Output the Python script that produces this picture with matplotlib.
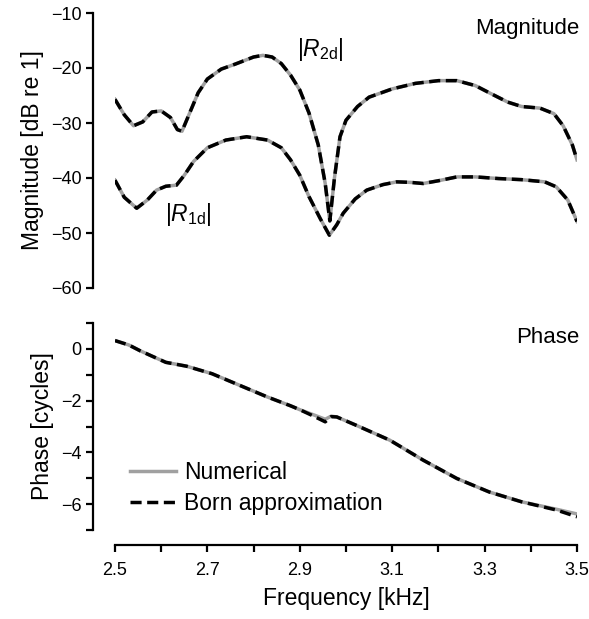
import matplotlib
matplotlib.use("Agg")
import matplotlib.pyplot as plt

plt.rcParams['font.family'] = ['Liberation Sans', 'DejaVu Sans']
plt.rcParams['mathtext.fontset'] = 'custom'
plt.rcParams['mathtext.rm'] = 'Liberation Sans'
plt.rcParams['mathtext.it'] = 'Liberation Sans:italic'

# |R_2d| (magnitude, dB) - numerical and Born coincide
f_r2 = [2.50, 2.52, 2.54, 2.56, 2.58, 2.60, 2.62, 2.635, 2.645, 2.66, 2.68, 2.70,
        2.73, 2.76, 2.80, 2.82, 2.84, 2.86, 2.88, 2.90, 2.92, 2.94, 2.955, 2.965,
        2.975, 2.987, 3.00, 3.025, 3.05, 3.10, 3.15, 3.20, 3.24, 3.28, 3.31, 3.35,
        3.38, 3.42, 3.45, 3.47, 3.49, 3.50]
r2 = [-25.7, -28.5, -30.5, -29.8, -28.0, -27.8, -29.0, -31.2, -31.5, -28.5, -24.5, -22.0,
      -20.2, -19.3, -18.0, -17.7, -18.0, -19.2, -21.3, -24.0, -28.2, -34.0, -41.0, -47.8,
      -40.0, -32.5, -29.5, -27.0, -25.3, -23.8, -22.8, -22.3, -22.3, -23.2, -24.5, -26.2,
      -27.0, -27.3, -28.3, -30.5, -34.0, -36.7]

# |R_1d|
f_r1 = [2.50, 2.52, 2.547, 2.57, 2.59, 2.61, 2.633, 2.65, 2.67, 2.70, 2.74, 2.785,
        2.83, 2.86, 2.88, 2.90, 2.92, 2.945, 2.964, 2.98, 2.994, 3.02, 3.045, 3.08,
        3.11, 3.14, 3.167, 3.20, 3.24, 3.28, 3.33, 3.38, 3.43, 3.455, 3.48, 3.50]
r1 = [-40.4, -43.5, -45.5, -44.0, -42.2, -41.5, -41.3, -39.5, -37.0, -34.5, -33.1, -32.5,
      -33.1, -34.5, -36.7, -39.5, -43.4, -47.5, -50.4, -48.5, -46.4, -43.8, -42.2, -41.2,
      -40.7, -40.8, -41.0, -40.5, -39.8, -39.8, -40.1, -40.3, -40.7, -41.6, -44.0, -47.9]

# phase (cycles)
f_ph = [2.50, 2.53, 2.554, 2.58, 2.61, 2.655, 2.71, 2.77, 2.83, 2.88, 2.90, 2.93,
        2.955, 2.968, 2.98, 3.023, 3.095, 3.167, 3.24, 3.31, 3.38, 3.456, 3.50]
ph_num = [0.32, 0.15, -0.07, -0.28, -0.52, -0.67, -0.96, -1.41, -1.86, -2.2, -2.35, -2.55,
          -2.72, -2.6, -2.63, -2.96, -3.53, -4.3, -5.01, -5.53, -5.91, -6.2, -6.38]
ph_born = [0.32, 0.15, -0.07, -0.28, -0.52, -0.67, -0.96, -1.41, -1.86, -2.2, -2.35, -2.6,
           -2.82, -2.62, -2.63, -2.96, -3.53, -4.3, -5.01, -5.53, -5.91, -6.23, -6.49]

gray = '#a0a0a0'
lw = 2.5
dash = (0, (3.2, 1.6))

fig = plt.figure(figsize=(5.89, 6.19), dpi=100)
ax1 = fig.add_axes([115/589, 1 - 288/619, 462/589, 275/619])
ax2 = fig.add_axes([115/589, 1 - 530/619, 462/589, 207/619])

for ax in (ax1, ax2):
    for s in ('top', 'right'):
        ax.spines[s].set_visible(False)
    ax.spines['left'].set_position(('outward', 16))
    ax.spines['left'].set_linewidth(1.6)
    ax.spines['bottom'].set_linewidth(1.6)
    ax.tick_params(direction='out', length=5, width=1.6, labelsize=13, pad=3)
    ax.set_xlim(2.5, 3.5)

# magnitude
ax1.plot(f_r2, r2, color=gray, lw=lw)
ax1.plot(f_r1, r1, color=gray, lw=lw)
ax1.plot(f_r2, r2, color='black', lw=lw, linestyle=dash)
ax1.plot(f_r1, r1, color='black', lw=lw, linestyle=dash)
ax1.set_ylim(-60, -10)
ax1.set_yticks([-60, -50, -40, -30, -20, -10])
ax1.spines['bottom'].set_visible(False)
ax1.set_xticks([])
ax1.set_ylabel('Magnitude [dB re 1]', fontsize=16.5, labelpad=5)
ax1.text(3.505, -12.8, 'Magnitude', fontsize=16, ha='right', va='center')
ax1.text(2.894, -16.7, r'$|R_{\mathrm{2d}}|$', fontsize=16.5, ha='left', va='center')
ax1.text(2.608, -46.7, r'$|R_{\mathrm{1d}}|$', fontsize=16.5, ha='left', va='center')

# phase
ax2.plot(f_ph, ph_num, color=gray, lw=lw, label='Numerical')
ax2.plot(f_ph, ph_born, color='black', lw=lw, linestyle=dash, label='Born approximation')
ax2.set_ylim(-7, 1)
ax2.set_yticks(range(-7, 2))
ax2.set_yticklabels(['' if v % 2 else str(v).replace('-', '\u2212') for v in range(-7, 2)])
ax2.spines['bottom'].set_position(('outward', 11))
xt = [2.5 + 0.1 * i for i in range(11)]
ax2.set_xticks(xt)
ax2.set_xticklabels(['%.1f' % v if i % 2 == 0 else '' for i, v in enumerate(xt)])
ax2.tick_params(axis='x', pad=7)
ax2.set_ylabel('Phase [cycles]', fontsize=16.5, labelpad=5)
ax2.set_xlabel('Frequency [kHz]', fontsize=16.5, labelpad=6)
ax2.text(3.505, 0.45, 'Phase', fontsize=16, ha='right', va='center')
ax2.legend(loc='center left', bbox_to_anchor=(0.032, 0.205), frameon=False,
           fontsize=16.5, handlelength=2.0, handletextpad=0.35, labelspacing=0.35,
           borderpad=0, borderaxespad=0)

fig.savefig('out.png', dpi=100)
